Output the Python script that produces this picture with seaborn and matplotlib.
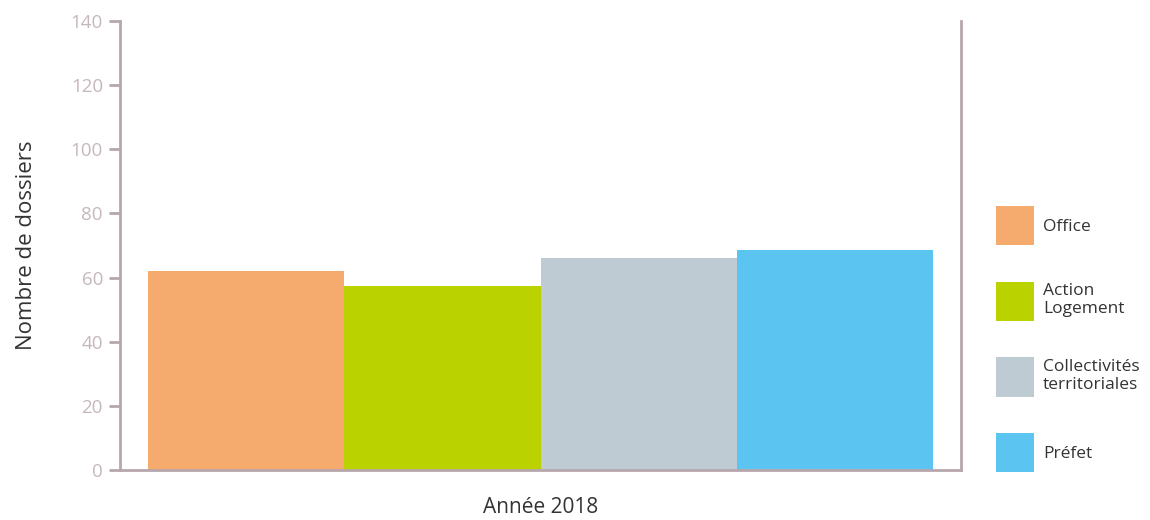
import pandas as pd
import matplotlib.pyplot as plt
import seaborn as sns

sns.set_style("white")
plt.rcParams['font.family'] = ['Open Sans', 'DejaVu Sans']

# data
annee = ["Année 2018"]
demandeurs = ["Office", "Action\nLogement", "Collectivités\nterritoriales", "Préfet"]
dossiers = [62, 57.5, 66, 68.5]
couleurs = ["#f5ab6e", "#bad300", "#bfcbd3", "#5bc4f1"]

df = pd.DataFrame({"annee": annee * len(demandeurs), "demandeur": demandeurs, "dossiers": dossiers})

axe_col = "#b7a7ac"
tick_col = "#c6b7bb"

fig = plt.figure(figsize=(11.5, 5.2), dpi=100)
ax = fig.add_axes([0.104, 0.096, 0.732, 0.864])
sns.barplot(data=df, x="annee", y="dossiers", hue="demandeur", palette=couleurs,
            width=0.932, saturation=1, linewidth=0, ax=ax, legend=True)

ax.set_ylim(0, 140)
ax.set_yticks(range(0, 141, 20))
ax.set_xlim(-0.5, 0.5)
ax.set_ylabel("Nombre de dossiers", fontsize=16, color="#333333", labelpad=24)
ax.set_xlabel("")
ax.tick_params(axis="y", colors=axe_col, labelcolor=tick_col, labelsize=13.5,
               length=8, width=2, left=True, direction="out", pad=4)
ax.tick_params(axis="x", bottom=False, labelsize=15, labelcolor="#333333", pad=16)

for s in ["left", "bottom", "right"]:
    ax.spines[s].set_color(axe_col)
    ax.spines[s].set_linewidth(2)
ax.spines["top"].set_visible(False)

handles, labels = ax.get_legend_handles_labels()
ax.get_legend().remove()
fig.legend(handles, labels, loc="center left", bbox_to_anchor=(0.866, 0.348),
           frameon=False, fontsize=12.5, handlelength=2.2, handleheight=3.1,
           labelspacing=2.1, handletextpad=0.5, borderpad=0, borderaxespad=0,
           labelcolor="#333333")

fig.savefig("out.png", dpi=100)
